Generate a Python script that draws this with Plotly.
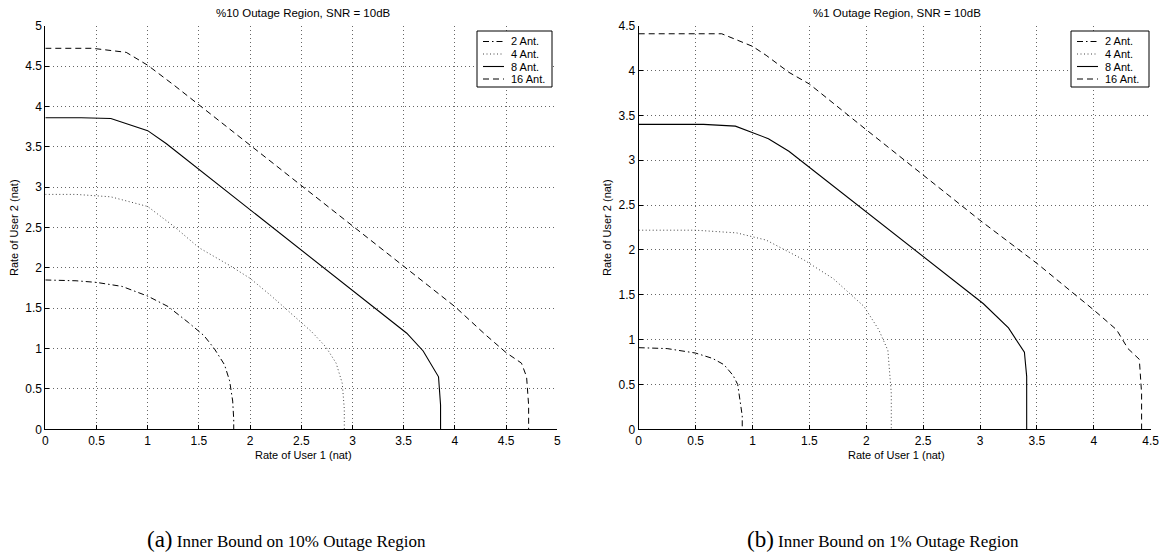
import plotly.graph_objects as go

W, H = 1163, 552

# ---------------- data: 10% outage region (left) ----------------
a2_x = [0, 0.3, 0.5, 0.75, 1.0, 1.2, 1.4, 1.55, 1.65, 1.75, 1.8, 1.83, 1.84, 1.84]
a2_y = [1.85, 1.84, 1.82, 1.77, 1.65, 1.52, 1.32, 1.16, 1.0, 0.8, 0.6, 0.35, 0.12, 0]
a4_x = [0, 0.3, 0.64, 1.0, 1.26, 1.5, 1.8, 2.0, 2.2, 2.4, 2.6, 2.74, 2.84, 2.9, 2.92, 2.92]
a4_y = [2.91, 2.91, 2.88, 2.76, 2.51, 2.25, 2.03, 1.87, 1.66, 1.43, 1.21, 1.02, 0.82, 0.57, 0.25, 0]
a8_x = [0, 0.35, 0.64, 1.0, 1.18, 3.53, 3.69, 3.84, 3.86, 3.86]
a8_y = [3.86, 3.86, 3.85, 3.70, 3.54, 1.19, 0.97, 0.65, 0.3, 0]
a16_x = [0, 0.46, 0.79, 1.0, 1.26, 1.5, 2.5, 3.5, 4.0, 4.3, 4.5, 4.65, 4.70, 4.72, 4.72]
a16_y = [4.72, 4.72, 4.67, 4.51, 4.26, 4.02, 3.02, 2.02, 1.52, 1.17, 0.95, 0.82, 0.65, 0.3, 0]

# ---------------- data: 1% outage region (right) ----------------
b2_x = [0, 0.25, 0.5, 0.65, 0.75, 0.83, 0.87, 0.89, 0.91, 0.91]
b2_y = [0.91, 0.90, 0.85, 0.79, 0.72, 0.60, 0.50, 0.35, 0.15, 0]
b4_x = [0, 0.5, 0.86, 1.12, 1.45, 1.71, 1.98, 2.11, 2.19, 2.22, 2.22]
b4_y = [2.22, 2.22, 2.19, 2.11, 1.89, 1.68, 1.37, 1.11, 0.88, 0.4, 0]
b8_x = [0, 0.57, 0.85, 1.14, 1.32, 3.03, 3.25, 3.39, 3.41, 3.41]
b8_y = [3.40, 3.40, 3.38, 3.24, 3.10, 1.40, 1.13, 0.86, 0.59, 0]
b16_x = [0, 0.73, 1.0, 1.12, 1.32, 1.5, 2.0, 2.5, 3.0, 3.5, 4.0, 4.2, 4.3, 4.4, 4.42, 4.42]
b16_y = [4.41, 4.41, 4.27, 4.17, 3.98, 3.85, 3.34, 2.83, 2.33, 1.85, 1.33, 1.11, 0.9, 0.78, 0.4, 0]

series_names = ["2 Ant.", "4 Ant.", "8 Ant.", "16 Ant."]

ticks_a = [0, 0.5, 1, 1.5, 2, 2.5, 3, 3.5, 4, 4.5, 5]
ticks_a_text = ["0", "0.5", "1", "1.5", "2", "2.5", "3", "3.5", "4", "4.5", "5"]
ticks_b = [0, 0.5, 1, 1.5, 2, 2.5, 3, 3.5, 4, 4.5]
ticks_b_text = ["0", "0.5", "1", "1.5", "2", "2.5", "3", "3.5", "4", "4.5"]

title_a = "%10 Outage Region, SNR = 10dB"
title_b = "%1 Outage Region, SNR = 10dB"
xlabel = "Rate of User 1 (nat)"
ylabel = "Rate of User 2 (nat)"
caption_a = ("(a)", "Inner Bound on 10% Outage Region")
caption_b = ("(b)", "Inner Bound on 1% Outage Region")

# ---------------- styles ----------------
styles = [
    dict(color="black", width=1, dash="6px,3px,1.5px,3px"),
    dict(color="#444", width=1, dash="1px,2.5px"),
    dict(color="black", width=1.1),
    dict(color="black", width=1, dash="6px,4px"),
]

SANS = "Liberation Sans, Arial, sans-serif"
SERIF = "Liberation Serif, Times New Roman, serif"

fig = go.Figure()
left = [(a2_x, a2_y), (a4_x, a4_y), (a8_x, a8_y), (a16_x, a16_y)]
right = [(b2_x, b2_y), (b4_x, b4_y), (b8_x, b8_y), (b16_x, b16_y)]
for (xs, ys), nm, st in zip(left, series_names, styles):
    fig.add_trace(go.Scatter(x=xs, y=ys, mode="lines", name=nm, line=st,
                             xaxis="x", yaxis="y", showlegend=False))
for (xs, ys), nm, st in zip(right, series_names, styles):
    fig.add_trace(go.Scatter(x=xs, y=ys, mode="lines", name=nm, line=st,
                             xaxis="x2", yaxis="y2", showlegend=False))

def px(x):
    return x / W

def py(y):
    return 1 - y / H

y_dom = [py(429.3), py(25.7)]
xa_dom = [px(45.3), px(557.3)]
xb_dom = [px(638.7), px(1150.7)]

axis_common = dict(
    showline=True, linecolor="black", linewidth=1, mirror=False,
    ticks="inside", ticklen=4, tickcolor="black", tickwidth=1,
    showgrid=True, gridcolor="#666", gridwidth=1, griddash="1px,3px",
    zeroline=False, tickfont=dict(family=SANS, size=12, color="black"),
    automargin=False, fixedrange=True,
)

fig.update_layout(
    width=W, height=H,
    margin=dict(l=0, r=0, t=0, b=0, autoexpand=False),
    paper_bgcolor="white", plot_bgcolor="white",
    font=dict(family=SANS, color="black"),
    showlegend=False,
    xaxis=dict(domain=xa_dom, anchor="y", range=[0, 5], tickvals=ticks_a, ticktext=ticks_a_text,
               **axis_common),
    yaxis=dict(domain=y_dom, anchor="x", range=[0, 5], tickvals=ticks_a, ticktext=ticks_a_text,
               **axis_common),
    xaxis2=dict(domain=xb_dom, anchor="y2", range=[0, 4.5], tickvals=ticks_b, ticktext=ticks_b_text,
                **axis_common),
    yaxis2=dict(domain=y_dom, anchor="x2", range=[0, 4.5], tickvals=ticks_b, ticktext=ticks_b_text,
                **axis_common),
)

ann = []
shapes = []
# subplot titles
for t, cx in [(title_a, 303), (title_b, 897)]:
    ann.append(dict(text=t, x=px(cx), y=py(13), xref="paper", yref="paper",
                    xanchor="center", yanchor="middle", showarrow=False,
                    font=dict(family=SANS, size=11.5, color="black")))
# axis titles
for cx in (303, 896):
    ann.append(dict(text=xlabel, x=px(cx), y=py(455), xref="paper", yref="paper",
                    xanchor="center", yanchor="middle", showarrow=False,
                    font=dict(family=SANS, size=11, color="black")))
for cx in (14, 607):
    ann.append(dict(text=ylabel, x=px(cx), y=py(228), xref="paper", yref="paper",
                    xanchor="center", yanchor="middle", showarrow=False, textangle=-90,
                    font=dict(family=SANS, size=11, color="black")))
# captions
for (lab, txt), cx in [(caption_a, 286), (caption_b, 883)]:
    ann.append(dict(text=f"<span style='font-size:23px'>{lab}</span> {txt}",
                    x=px(cx), y=py(539), xref="paper", yref="paper",
                    xanchor="center", yanchor="middle", showarrow=False,
                    font=dict(family=SERIF, size=17, color="black")))

# legends (box + samples + text)
for bx0, bx1 in [(477, 552), (1071, 1149)]:
    shapes.append(dict(type="rect", xref="paper", yref="paper",
                       x0=px(bx0), x1=px(bx1), y0=py(87), y1=py(31),
                       line=dict(color="black", width=1), fillcolor="white", layer="above"))
    rows = [41.5, 54, 66.5, 79]
    for ry, nm, st in zip(rows, series_names, styles):
        shapes.append(dict(type="line", xref="paper", yref="paper",
                           x0=px(bx0 + 6), x1=px(bx0 + 27), y0=py(ry), y1=py(ry),
                           line=st, layer="above"))
        ann.append(dict(text=nm, x=px(bx0 + 32), y=py(ry), xref="paper", yref="paper",
                        xanchor="left", yanchor="middle", showarrow=False,
                        font=dict(family=SANS, size=11, color="black")))

fig.update_layout(annotations=ann, shapes=shapes)
fig.write_html(
    "out.html",
    config={"displayModeBar": False},
    post_script="document.body.style.margin='0';document.body.style.overflow='hidden';",
)
